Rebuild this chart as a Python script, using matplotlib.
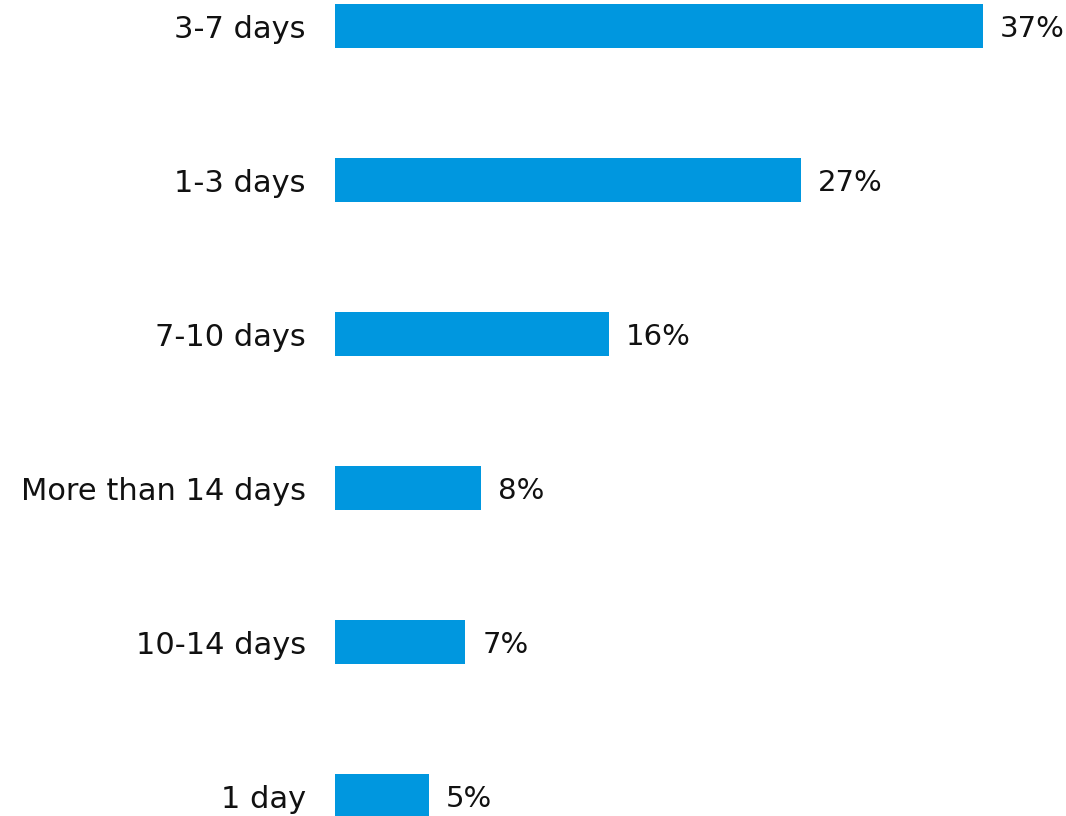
import matplotlib
matplotlib.use("Agg")
import matplotlib.pyplot as plt

categories = ["3-7 days", "1-3 days", "7-10 days", "More than 14 days", "10-14 days", "1 day"]
values = [37.0, 26.6, 15.65, 8.35, 7.45, 5.37]
labels = ["37%", "27%", "16%", "8%", "7%", "5%"]

plt.rcParams['font.family'] = ['DejaVu Sans']

fig = plt.figure(figsize=(10.66, 8.16), dpi=100)
ax = fig.add_axes([335/1066, 0, 731/1066, 1])
ypos = list(range(len(categories)))
ax.barh(ypos, values, height=44/154, color="#0097DF")
ax.set_xlim(0, 731/17.5)
ax.set_ylim((816-26)/154, -26/154)
ax.set_yticks(ypos)
ax.set_yticklabels(categories, fontsize=22, color="#111111", va="center_baseline")
ax.tick_params(axis='y', length=0, pad=21)
ax.set_xticks([])
for s in ax.spines.values():
    s.set_visible(False)
for y, v, l in zip(ypos, values, labels):
    ax.annotate(l, (v, y), xytext=(12.2, 0), textcoords="offset points",
                va="center_baseline", ha="left", fontsize=21, color="#111111")
fig.savefig("out.png", dpi=100)
